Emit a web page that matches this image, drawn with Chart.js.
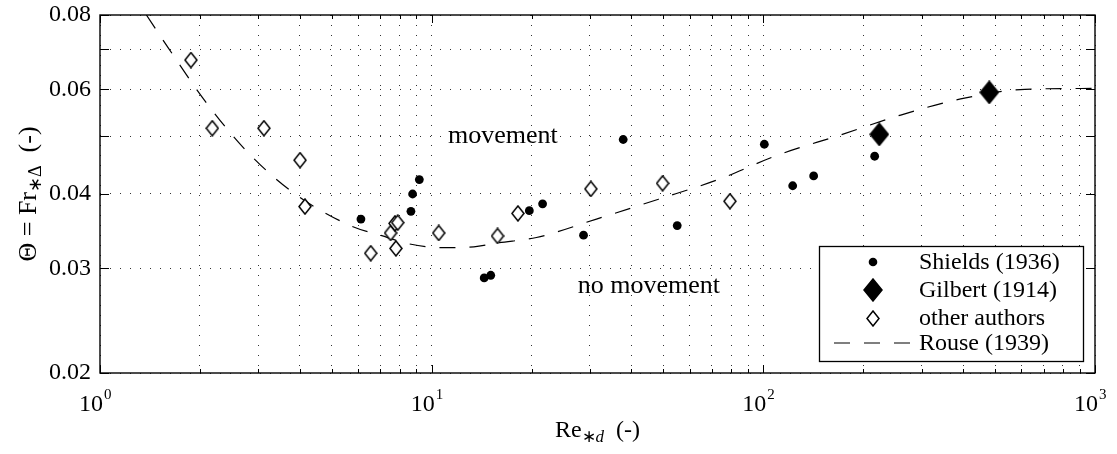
<!DOCTYPE html>
<html>
<head>
<meta charset="utf-8">
<script src="https://cdn.jsdelivr.net/npm/chart.js@4.4.1/dist/chart.umd.min.js"></script>
<style>
  html, body { margin: 0; padding: 0; background: #fff; }
  #wrap { width: 1117px; height: 454px; }
</style>
</head>
<body>
<div id="wrap"><canvas id="shieldsChart" width="1117" height="454"></canvas></div>
<script>
// Shields (1936)
var shieldsRe = [6.12, 8.66, 8.76, 9.18, 14.4, 15.07, 19.7, 21.6, 28.7, 37.8, 55.0, 100.7, 122.6, 141.8, 216.6];
var shieldsTheta = [0.0363, 0.0374, 0.0400, 0.0423, 0.0289, 0.0292, 0.0375, 0.0385, 0.0341, 0.0494, 0.0354, 0.0485, 0.0413, 0.0429, 0.0463];

// Gilbert (1914)
var gilbertRe = [223.7, 480];
var gilbertTheta = [0.0504, 0.0593];

// other authors
var otherRe = [1.88, 2.18, 3.12, 4.01, 4.15, 6.55, 7.52, 7.75, 7.9, 7.8, 10.5, 15.8, 18.2, 30.2, 49.7, 79.3];
var otherTheta = [0.0672, 0.0516, 0.0516, 0.0456, 0.0381, 0.0318, 0.0344, 0.0357, 0.0358, 0.0324, 0.0344, 0.0340, 0.0371, 0.0408, 0.0417, 0.0389];

// Rouse (1939) curve
var rouseRe = [1.38, 1.61, 2.08, 2.79, 3.83, 5.74, 7.0, 8.5, 10.6, 13.4, 15.8, 20.7, 31.4, 48.3, 73.1, 111.7, 169.4, 259.5, 393.6, 615, 1000];
var rouseTheta = [0.080, 0.0703, 0.0572, 0.0470, 0.0402, 0.0353, 0.0341, 0.0330, 0.0325, 0.0326, 0.0331, 0.0338, 0.0363, 0.0392, 0.0423, 0.0466, 0.0502, 0.0543, 0.0578, 0.0600, 0.0602];

var seriesNames = ['Shields (1936)', 'Gilbert (1914)', 'other authors', 'Rouse (1939)'];

// axis ticks
var xGridValues = [1, 2, 3, 4, 5, 6, 7, 8, 9, 10, 20, 30, 40, 50, 60, 70, 80, 90, 100, 200, 300, 400, 500, 600, 700, 800, 900, 1000];
var xLabelValues = [1, 10, 100, 1000];
var xLabelExps = ['0', '1', '2', '3'];
var yGridValues = [0.02, 0.03, 0.04, 0.05, 0.06, 0.07, 0.08];
var yLabelValues = [0.02, 0.03, 0.04, 0.06, 0.08];

// region labels
var regionText = ['movement', 'no movement'];
var regionRe = [16.4, 45.2];
var regionTheta = [0.0501, 0.0280];

var serif = '"Liberation Serif", "Times New Roman", serif';
var rouseDash = [16, 14];

function toPoints(xs, ys) {
    return xs.map(function (x, i) { return { x: x, y: ys[i] }; });
}

function makeDiamond(w, h, filled) {
    var c = document.createElement('canvas');
    c.width = w + 2;
    c.height = h + 2;
    var g = c.getContext('2d');
    g.beginPath();
    g.moveTo(c.width / 2, 1);
    g.lineTo(c.width - 1, c.height / 2);
    g.lineTo(c.width / 2, c.height - 1);
    g.lineTo(1, c.height / 2);
    g.closePath();
    g.fillStyle = filled ? '#000' : '#fff';
    g.fill();
    g.lineWidth = 1.5;
    g.strokeStyle = '#000';
    g.stroke();
    return c;
}

var openDiamond = makeDiamond(12, 15, false);
var bigDiamond = makeDiamond(18, 22, true);

function drawLine(ctx, x1, y1, x2, y2) {
    ctx.beginPath();
    ctx.moveTo(x1, y1);
    ctx.lineTo(x2, y2);
    ctx.stroke();
}

// text with a subscript part: parts = [[text, isSub, italic], ...]
function drawParts(ctx, parts, x, y, size) {
    var fontFor = function (p) {
        return (p[2] ? 'italic ' : '') + (p[1] ? Math.round(size * 0.7) : size) + 'px ' + serif;
    };
    var widths = parts.map(function (p) {
        ctx.font = fontFor(p);
        return ctx.measureText(p[0]).width;
    });
    var total = widths.reduce(function (a, b) { return a + b; }, 0);
    var cx = x - total / 2;
    ctx.textAlign = 'left';
    ctx.textBaseline = 'alphabetic';
    parts.forEach(function (p, i) {
        ctx.font = fontFor(p);
        ctx.fillText(p[0], cx, y + (p[1] ? 5 : 0));
        cx += widths[i];
    });
}

var framePlugin = {
    id: 'frame',
    afterDraw: function (chart) {
        var ctx = chart.ctx, a = chart.chartArea;
        var xs = chart.scales.x, ys = chart.scales.y;
        ctx.save();
        ctx.strokeStyle = '#000';
        ctx.fillStyle = '#000';
        ctx.lineWidth = 1;

        // inward tick marks on all four sides
        xGridValues.forEach(function (v) {
            var px = Math.round(xs.getPixelForValue(v)) + 0.5;
            var len = xLabelValues.indexOf(v) >= 0 ? 8 : 4;
            drawLine(ctx, px, a.bottom, px, a.bottom - len);
            drawLine(ctx, px, a.top, px, a.top + len);
        });
        yGridValues.forEach(function (v) {
            var py = Math.round(ys.getPixelForValue(v)) + 0.5;
            drawLine(ctx, a.left, py, a.left + 9, py);
            drawLine(ctx, a.right, py, a.right - 9, py);
        });

        // frame
        ctx.lineWidth = 1.4;
        ctx.strokeRect(a.left, a.top, a.right - a.left, a.bottom - a.top);

        // x tick labels 10^n
        xLabelValues.forEach(function (v, i) {
            var px = xs.getPixelForValue(v);
            ctx.textBaseline = 'alphabetic';
            ctx.textAlign = 'right';
            ctx.font = '24px ' + serif;
            ctx.fillText('10', px + 3, a.bottom + 38);
            ctx.textAlign = 'left';
            ctx.font = '15px ' + serif;
            ctx.fillText(xLabelExps[i], px + 4, a.bottom + 26);
        });

        // region labels
        ctx.font = '26px ' + serif;
        ctx.textAlign = 'center';
        ctx.textBaseline = 'middle';
        regionText.forEach(function (t, i) {
            ctx.fillText(t, xs.getPixelForValue(regionRe[i]), ys.getPixelForValue(regionTheta[i]));
        });

        // axis titles
        drawParts(ctx, [['Re', false], ['\u2217', true], ['d', true, true], ['  (-)', false]],
            (a.left + a.right) / 2, 437, 24);
        ctx.save();
        ctx.translate(36, (a.top + a.bottom) / 2);
        ctx.rotate(-Math.PI / 2);
        drawParts(ctx, [['\u0398 = Fr', false], ['\u2217\u0394', true], ['  (-)', false]], 0, 0, 26);
        ctx.restore();

        // legend box
        var w = 264, h = 115;
        var L = a.right - 12 - w, T = a.bottom - 12 - h;
        ctx.fillStyle = '#fff';
        ctx.fillRect(L, T, w, h);
        ctx.lineWidth = 1.3;
        ctx.strokeStyle = '#000';
        ctx.strokeRect(L + 0.5, T + 0.5, w, h);
        ctx.fillStyle = '#000';
        var rows = [16, 44, 72, 97];
        var mx = L + 54;
        ctx.beginPath();
        ctx.arc(mx, T + rows[0], 4.3, 0, Math.PI * 2);
        ctx.fill();
        ctx.drawImage(bigDiamond, Math.round(mx - bigDiamond.width / 2), Math.round(T + rows[1] - bigDiamond.height / 2));
        ctx.drawImage(openDiamond, Math.round(mx - openDiamond.width / 2), Math.round(T + rows[2] - openDiamond.height / 2));
        ctx.setLineDash(rouseDash);
        ctx.lineWidth = 1.2;
        drawLine(ctx, L + 15, T + rows[3], L + 94, T + rows[3]);
        ctx.setLineDash([]);
        ctx.font = '24px ' + serif;
        ctx.textAlign = 'left';
        ctx.textBaseline = 'middle';
        seriesNames.forEach(function (n, i) {
            ctx.fillText(n, L + 100, T + rows[i] + 1);
        });

        ctx.restore();
    }
};

var ctx = document.getElementById('shieldsChart').getContext('2d');
var chart = new Chart(ctx, {
    type: 'scatter',
    data: {
        datasets: [{
            label: seriesNames[0],
            data: toPoints(shieldsRe, shieldsTheta),
            pointStyle: 'circle',
            pointRadius: 4.4,
            backgroundColor: '#000',
            borderColor: '#000',
            borderWidth: 0,
            order: 1
        }, {
            label: seriesNames[1],
            data: toPoints(gilbertRe, gilbertTheta),
            pointStyle: bigDiamond,
            pointRadius: 9,
            order: 1
        }, {
            label: seriesNames[2],
            data: toPoints(otherRe, otherTheta),
            pointStyle: openDiamond,
            pointRadius: 6,
            order: 2
        }, {
            type: 'line',
            label: seriesNames[3],
            data: toPoints(rouseRe, rouseTheta),
            showLine: true,
            borderColor: '#000',
            borderWidth: 1.2,
            borderDash: rouseDash,
            pointRadius: 0,
            fill: false,
            cubicInterpolationMode: 'monotone',
            order: 5
        }]
    },
    options: {
        responsive: false,
        animation: false,
        devicePixelRatio: 1,
        layout: { padding: { top: 15, right: 22, left: 0, bottom: 0 } },
        plugins: {
            legend: { display: false },
            tooltip: { enabled: false }
        },
        scales: {
            x: {
                type: 'logarithmic',
                min: 1,
                max: 1000,
                afterBuildTicks: function (s) {
                    s.ticks = xGridValues.map(function (v) { return { value: v }; });
                },
                afterFit: function (s) {
                    s.height = 81;
                    s.paddingLeft = 0;
                    s.paddingRight = 0;
                },
                ticks: { display: false },
                grid: { color: '#333', lineWidth: 1, drawTicks: false },
                border: { display: false, dash: [1, 9] }
            },
            y: {
                type: 'logarithmic',
                min: 0.02,
                max: 0.08,
                afterBuildTicks: function (s) {
                    s.ticks = yGridValues.map(function (v) { return { value: v }; });
                },
                afterFit: function (s) {
                    s.width = 100;
                    s.paddingTop = 0;
                    s.paddingBottom = 0;
                },
                ticks: {
                    autoSkip: false,
                    padding: 9,
                    color: '#000',
                    font: { family: serif, size: 24 },
                    callback: function (value) {
                        return yLabelValues.indexOf(value) >= 0 ? value.toFixed(2) : '';
                    }
                },
                grid: { color: '#333', lineWidth: 1, drawTicks: false },
                border: { display: false, dash: [1, 9] }
            }
        }
    },
    plugins: [framePlugin]
});
</script>
</body>
</html>
